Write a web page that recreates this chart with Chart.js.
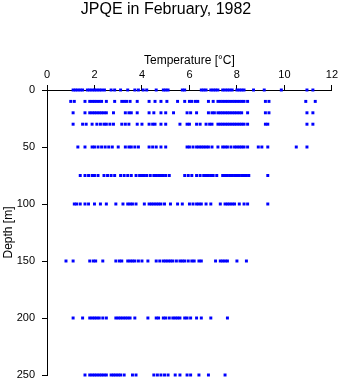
<!DOCTYPE html>
<html>
<head>
<meta charset="utf-8">
<script src="https://cdn.jsdelivr.net/npm/chart.js@4/dist/chart.umd.min.js"></script>
<style>
    body { margin: 0; background: #fff; }
</style>
</head>
<body>
<canvas id="chart_jpqe" width="341" height="384"></canvas>
<script>
// sample depths [m] and temperatures [°C]
const depths = [0, 10, 20, 30, 50, 75, 100, 150, 200, 250];

const temps0 = [1.1, 1.2, 1.3, 1.4, 1.5, 1.7, 1.8, 1.9, 2.0, 2.1, 2.2, 2.3, 2.42, 2.7, 2.85, 3.1, 3.4, 3.7, 3.85, 4.05, 4.2, 4.6, 4.9, 5.0, 5.1, 5.7, 5.8, 6.5, 6.6, 6.7, 6.9, 7.0, 7.1, 7.2, 7.4, 7.5, 7.6, 7.7, 7.8, 8.0, 8.1, 8.2, 8.3, 8.7, 9.15, 9.87, 10.95, 11.2];
const temps10 = [1.0, 1.15, 1.6, 1.8, 1.9, 2.0, 2.1, 2.2, 2.3, 2.5, 2.85, 3.15, 3.25, 3.35, 3.5, 3.8, 4.3, 4.55, 4.8, 5.05, 5.5, 5.8, 6.0, 6.1, 6.25, 6.35, 6.8, 7.0, 7.2, 7.3, 7.4, 7.5, 7.6, 7.7, 7.8, 7.9, 8.0, 8.1, 8.2, 8.3, 8.45, 9.2, 9.35, 10.9, 11.3];
const temps20 = [1.1, 1.6, 1.8, 1.9, 2.0, 2.1, 2.2, 2.3, 2.4, 2.5, 2.8, 3.3, 3.45, 3.55, 3.8, 4.3, 4.5, 4.8, 5.0, 5.33, 5.9, 6.05, 6.3, 6.8, 6.95, 7.05, 7.2, 7.3, 7.4, 7.5, 7.6, 7.7, 7.8, 7.9, 8.0, 8.1, 8.2, 8.45, 9.2, 9.35, 10.95, 11.2];
const temps30 = [1.1, 1.5, 1.65, 1.9, 2.1, 2.25, 2.4, 2.5, 2.65, 2.8, 3.15, 3.3, 3.45, 3.8, 4.0, 4.3, 4.45, 4.55, 4.8, 5.0, 5.6, 5.9, 6.0, 6.3, 6.45, 6.7, 6.85, 6.95, 7.2, 7.3, 7.4, 7.5, 7.6, 7.7, 7.8, 7.9, 8.0, 8.1, 8.2, 8.3, 8.45, 9.2, 9.3, 10.95, 11.2];
const temps50 = [1.3, 1.6, 1.9, 2.0, 2.15, 2.3, 2.45, 2.6, 2.75, 3.0, 3.3, 3.45, 3.55, 3.7, 3.85, 4.3, 4.45, 4.6, 4.8, 5.0, 5.9, 6.0, 6.15, 6.3, 6.4, 6.5, 6.6, 6.7, 6.8, 6.95, 7.2, 7.4, 7.5, 7.6, 7.75, 7.9, 8.0, 8.1, 8.2, 8.3, 8.45, 8.9, 9.05, 9.3, 10.5, 10.95];
const temps75 = [1.4, 1.6, 1.75, 1.9, 2.0, 2.15, 2.4, 2.55, 2.7, 2.85, 3.1, 3.25, 3.4, 3.55, 3.75, 3.9, 4.0, 4.1, 4.2, 4.35, 4.5, 4.6, 4.7, 4.8, 4.9, 5.0, 5.15, 5.8, 5.95, 6.1, 6.3, 6.45, 6.6, 6.7, 6.8, 6.9, 7.0, 7.15, 7.4, 7.5, 7.6, 7.7, 7.8, 7.9, 8.0, 8.1, 8.2, 8.3, 8.4, 8.5, 9.3];
const temps100 = [1.15, 1.25, 1.4, 1.6, 1.75, 2.0, 2.25, 2.5, 2.9, 3.2, 3.4, 3.5, 3.6, 3.75, 4.1, 4.3, 4.4, 4.5, 4.6, 4.7, 4.8, 4.95, 5.2, 5.5, 5.7, 6.0, 6.15, 6.3, 6.4, 6.5, 6.7, 6.9, 7.3, 7.5, 7.6, 7.7, 7.8, 7.9, 8.1, 8.3, 8.45, 9.3];
const temps150 = [0.8, 1.1, 1.8, 1.95, 2.05, 2.35, 2.9, 3.05, 3.15, 3.4, 3.5, 3.6, 3.7, 3.85, 4.0, 4.25, 4.6, 4.75, 4.9, 5.0, 5.1, 5.2, 5.3, 5.45, 5.6, 5.7, 5.8, 5.95, 6.1, 6.2, 6.4, 6.5, 7.1, 7.3, 7.4, 7.5, 7.6, 8.0, 8.4];
const temps200 = [1.1, 1.5, 1.8, 1.9, 2.0, 2.1, 2.2, 2.35, 2.5, 2.9, 3.0, 3.1, 3.2, 3.3, 3.4, 3.5, 3.7, 4.25, 4.6, 4.7, 4.9, 5.0, 5.15, 5.3, 5.4, 5.5, 5.6, 5.8, 5.9, 6.05, 6.3, 6.5, 6.9, 7.6];
const temps250 = [1.6, 1.8, 1.9, 2.0, 2.1, 2.2, 2.3, 2.4, 2.5, 2.7, 2.8, 2.9, 3.0, 3.1, 3.25, 3.6, 3.75, 4.5, 4.65, 4.8, 4.95, 5.1, 5.4, 5.6, 5.9, 6.05, 6.4, 6.8, 7.5];

const tempRows = [temps0, temps10, temps20, temps30, temps50, temps75, temps100, temps150, temps200, temps250];

const points = [];
tempRows.forEach((row, i) => {
    row.forEach(t => points.push({ x: t, y: depths[i] }));
});

const fontFamily = "'Liberation Sans', Arial, sans-serif";
Chart.defaults.color = '#000';
Chart.defaults.font.family = fontFamily;

new Chart(document.querySelector('#chart_jpqe'), {
    type: 'scatter',
    data: {
        datasets: [{
            label: 'JPQE',
            data: points,
            backgroundColor: '#0000ff',
            borderWidth: 0,
            pointStyle: 'rect',
            pointRadius: 2.1,
            clip: false
        }]
    },
    options: {
        responsive: false,
        animation: false,
        layout: {
            padding: { left: 0, right: 9, top: 0, bottom: 9 }
        },
        plugins: {
            legend: { display: false },
            tooltip: { enabled: false },
            title: {
                display: true,
                text: 'JPQE in February, 1982',
                font: { size: 16, weight: 'normal', lineHeight: 1.2 },
                padding: { top: 0, bottom: 0 },
                color: '#000'
            }
        },
        scales: {
            x: {
                type: 'linear',
                position: 'top',
                min: 0,
                max: 12,
                ticks: { stepSize: 2, padding: 3, font: { size: 11 }, maxRotation: 0 },
                grid: { drawOnChartArea: false, drawTicks: true, tickLength: 5, color: '#000' },
                border: { color: '#000', width: 1 },
                title: {
                    display: true,
                    text: 'Temperature [°C]',
                    font: { size: 12, lineHeight: 1.2 },
                    padding: { top: 34, bottom: 0 }
                },
                afterFit: scale => { scale.height = 70.8; }
            },
            y: {
                type: 'linear',
                reverse: true,
                min: 0,
                max: 250,
                ticks: { stepSize: 50, padding: 7, font: { size: 11 } },
                grid: { drawOnChartArea: false, drawTicks: true, tickLength: 5, color: '#000' },
                border: { color: '#000', width: 1 },
                title: {
                    display: true,
                    text: 'Depth [m]',
                    font: { size: 12, lineHeight: 1.2 },
                    padding: { top: 1, bottom: 0 }
                },
                afterFit: scale => {
                    scale.width = 47;
                    scale.paddingTop = 0;
                    scale.paddingBottom = 0;
                }
            }
        }
    }
});
</script>
</body>
</html>
